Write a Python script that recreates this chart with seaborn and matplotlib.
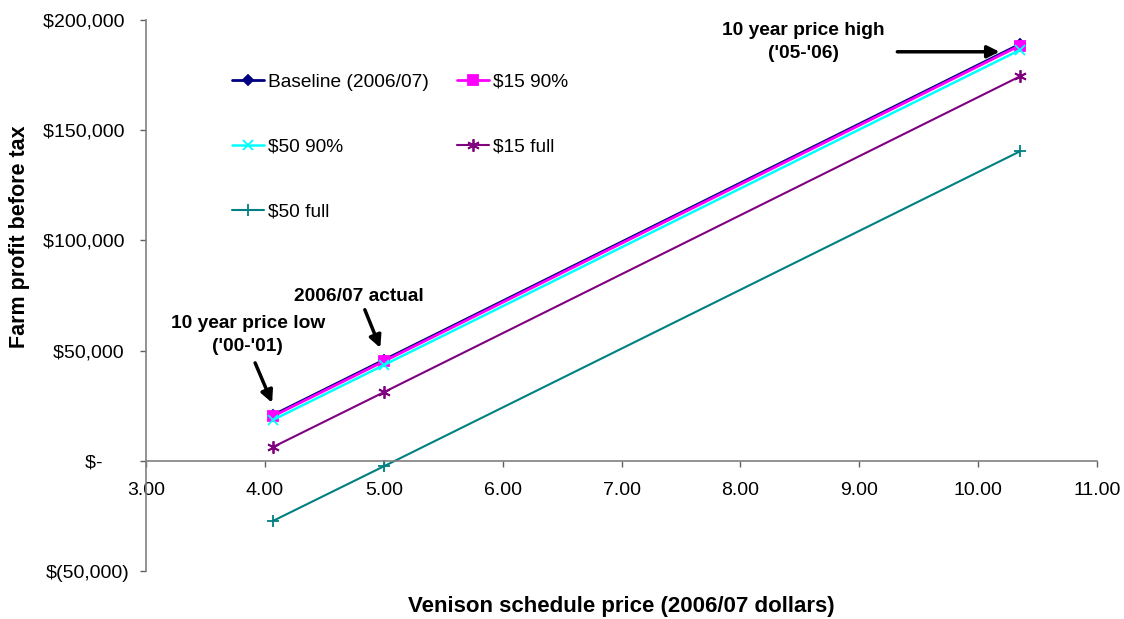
import matplotlib
matplotlib.use("Agg")
import matplotlib.pyplot as plt
import matplotlib.ticker as mticker
import seaborn as sns
import pandas as pd

# Data
prices = [4.07, 5.00, 10.35]
baseline = [20800, 45700, 188900]
p15_90 = [20300, 45100, 188300]
p50_90 = [18600, 43400, 186300]
p15_full = [6300, 31100, 174300]
p50_full = [-27200, -2500, 140300]

series_names = ["Baseline (2006/07)", "$15 90%", "$50 90%", "$15 full", "$50 full"]
series_vals = [baseline, p15_90, p50_90, p15_full, p50_full]
colors = ["#000080", "#FF00FF", "#00FFFF", "#800080", "#008080"]
markers = ["D", "s", "x", (6, 2, 0), "+"]
msizes = [5, 7, 7, 9, 8]
lws = [2.0, 2.0, 1.8, 1.5, 1.5]

sns.set_theme(style="white")
plt.rcParams["font.family"] = ["Liberation Sans", "DejaVu Sans"]
plt.rcParams["text.color"] = "black"
plt.rcParams["axes.labelcolor"] = "black"

fig = plt.figure(figsize=(11.24, 6.19), dpi=100)
ax = fig.add_axes([0.130, 0.0775, 0.846, 0.8905])

for name, vals, c, m, ms, lw in zip(series_names, series_vals, colors, markers, msizes, lws):
    df = pd.DataFrame({"price": prices, "profit": vals})
    sns.lineplot(data=df, x="price", y="profit", ax=ax, color=c, marker=m,
                 markersize=ms, linewidth=lw, label=name,
                 markeredgecolor=c, markerfacecolor=c, markeredgewidth=1.3)

ax.set_xlim(3, 11)
ax.set_ylim(-50000, 200000)
ax.set_xticks([3, 4, 5, 6, 7, 8, 9, 10, 11])
ax.set_yticks([-50000, 0, 50000, 100000, 150000, 200000])

def yfmt(v, pos):
    if abs(v) < 1e-6:
        return "$-     "
    if v < 0:
        return "$({:,.0f})".format(-v)
    return "${:,.0f} ".format(v)

ax.yaxis.set_major_formatter(mticker.FuncFormatter(yfmt))
ax.xaxis.set_major_formatter(mticker.FormatStrFormatter("%.2f"))

for s in ["top", "right"]:
    ax.spines[s].set_visible(False)
ax.spines["bottom"].set_position(("data", 0))
for s in ["left", "bottom"]:
    ax.spines[s].set_color("#808080")
    ax.spines[s].set_linewidth(1.2)
ax.tick_params(axis="both", which="major", direction="out", length=4, width=1,
               color="#606060", labelsize=14, labelcolor="black", left=True, bottom=True)
ax.tick_params(axis="x", pad=11)
ax.tick_params(axis="y", pad=8)

ax.set_xlabel("Venison schedule price (2006/07 dollars)", fontsize=16, fontweight="bold")
ax.xaxis.set_label_coords(0.5, -0.045)
ax.set_ylabel("Farm profit before tax", fontsize=15.5, fontweight="bold")
ax.yaxis.set_label_coords(-0.122, 0.606)

# Annotations
ann_kw = dict(fontsize=13.8, fontweight="bold", ha="center", va="center", linespacing=1.45)
arrow = dict(arrowstyle="-|>", lw=2.5, color="black", mutation_scale=18, shrinkA=0, shrinkB=0)
ax.text(8.53, 190000, "10 year price high\n('05-'06)", **ann_kw)
ax.annotate("", xy=(10.18, 185500), xytext=(9.32, 185500), arrowprops=arrow)
ax.text(4.79, 74500, "2006/07 actual", **ann_kw)
ax.annotate("", xy=(4.97, 51200), xytext=(4.84, 68500), arrowprops=arrow)
ax.text(3.855, 57100, "10 year price low\n('00-'01)", **ann_kw)
ax.annotate("", xy=(4.06, 26300), xytext=(3.917, 44400), arrowprops=arrow)

handles, labels = ax.get_legend_handles_labels()
order = [0, 2, 4, 1, 3]
leg = ax.legend([handles[i] for i in order], [labels[i] for i in order],
                loc="upper left", bbox_to_anchor=(0.0724, 0.934), ncol=2, frameon=False,
                fontsize=13.8, labelspacing=2.48, columnspacing=1.45, handlelength=1.67,
                handletextpad=0.2)

fig.savefig("out.png", dpi=100)
